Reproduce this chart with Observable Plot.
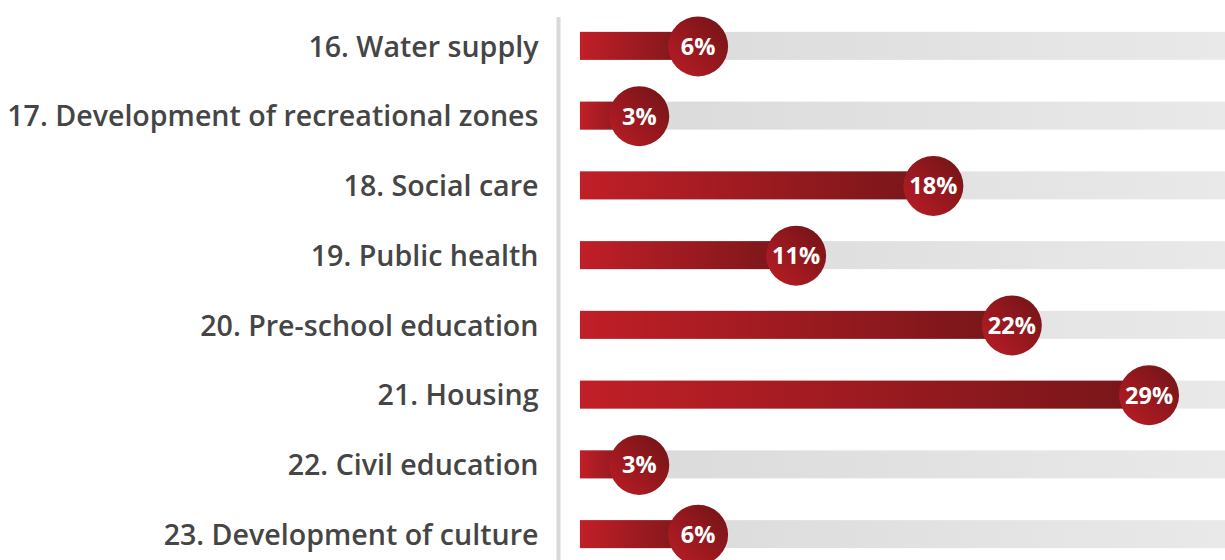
<!DOCTYPE html>
<html>
<head>
<meta charset="utf-8">
<script src="https://cdn.jsdelivr.net/npm/d3@7"></script>
<script src="https://cdn.jsdelivr.net/npm/@observablehq/plot@0.6"></script>
<style>
  html, body { margin: 0; padding: 0; background: #fff; }
  #chart svg { display: block; }
</style>
</head>
<body>
<div id="chart"></div>
<script>
const categories = [
  "16. Water supply",
  "17. Development of recreational zones",
  "18. Social care",
  "19. Public health",
  "20. Pre-school education",
  "21. Housing",
  "22. Civil education",
  "23. Development of culture"
];
const values = [6, 3, 18, 11, 22, 29, 3, 6];
const valueLabels = ["6%", "3%", "18%", "11%", "22%", "29%", "3%", "6%"];
const trackMax = 32.9;

const data = categories.map((c, i) => ({cat: c, value: values[i], label: valueLabels[i], max: trackMax}));

const barH = 28;
const step = (569 - 11) / categories.length;
const inset = (step - barH) / 2;

const defs = () => {
  const svg = d3.create("svg:g");
  const d = svg.append("defs");
  const bg = d.append("linearGradient").attr("id", "barGrad").attr("x1", 0).attr("x2", 1).attr("y1", 0).attr("y2", 0);
  bg.append("stop").attr("offset", "0%").attr("stop-color", "#c11f27");
  bg.append("stop").attr("offset", "100%").attr("stop-color", "#761619");
  const tg = d.append("linearGradient").attr("id", "trackGrad").attr("x1", 0).attr("x2", 1).attr("y1", 0).attr("y2", 0);
  tg.append("stop").attr("offset", "0%").attr("stop-color", "#d9d9da");
  tg.append("stop").attr("offset", "100%").attr("stop-color", "#e9e9ea");
  const cg = d.append("linearGradient").attr("id", "dotGrad").attr("x1", 0).attr("x2", 1).attr("y1", 1).attr("y2", 0);
  cg.append("stop").attr("offset", "0%").attr("stop-color", "#bc1d25");
  cg.append("stop").attr("offset", "100%").attr("stop-color", "#6e1417");
  return svg.node();
};

const chart = Plot.plot({
  width: 1225,
  height: 560,
  marginLeft: 558,
  marginRight: 0,
  marginTop: 17,
  marginBottom: 0,
  style: {fontFamily: "'Open Sans', sans-serif", color: "#454545", background: "#fff"},
  x: {domain: [-1.12, trackMax], axis: null},
  y: {domain: categories, range: [11, 569], padding: 0, round: false, axis: null},
  marks: [
    defs,
    Plot.ruleX([-1.12], {stroke: "#d9d9d9", strokeWidth: 4}),
    Plot.barX(data, {y: "cat", x1: 0, x2: "max", fill: "url(#trackGrad)", insetTop: inset, insetBottom: inset}),
    Plot.barX(data, {y: "cat", x1: 0, x2: "value", fill: "url(#barGrad)", insetTop: inset, insetBottom: inset}),
    Plot.dot(data, {y: "cat", x: "value", r: 30, fill: "url(#dotGrad)", stroke: "none"}),
    Plot.text(data, {y: "cat", x: "value", text: "label", fill: "#fff", fontSize: 23.5, fontWeight: 700, dy: 1}),
    Plot.text(data, {y: "cat", text: "cat", frameAnchor: "left", textAnchor: "end", dx: -20, fontSize: 28.6, fontWeight: 600, fill: "#454545", dy: 1})
  ]
});
document.getElementById("chart").appendChild(chart);
</script>
</body>
</html>
